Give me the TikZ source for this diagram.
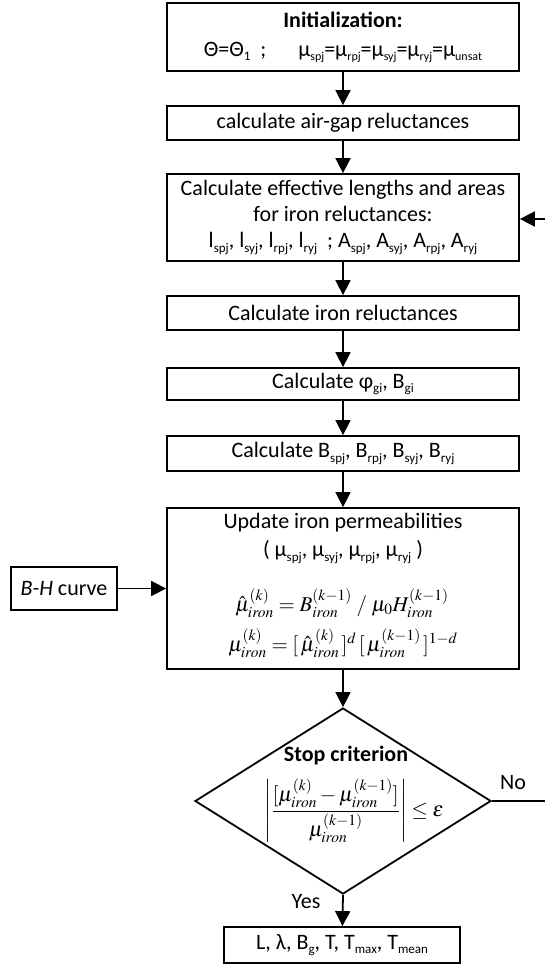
\documentclass[tikz,border=0pt]{standalone}
\usepackage{amsmath}
\usepackage{mathptmx}
\usepackage[no-math]{fontspec}
\setmainfont{Carlito}
\usetikzlibrary{arrows.meta,shapes.geometric}
\DeclareMathSizes{21}{21}{15.5}{11.5}
\newcommand{\lo}[1]{\raisebox{-0.4ex}{\fontsize{13}{13}\selectfont #1}}
\newcommand{\los}[1]{\raisebox{-0.4ex}{\fontsize{12}{12}\selectfont #1}}
\tikzset{
  box/.style={draw, line width=1.8pt, inner sep=0pt, align=center},
  conn/.style={line width=1.8pt},
  arr/.style={line width=1.8pt, -{Triangle[length=15pt,width=15pt]}},
  txt/.style={inner sep=0pt, align=center},
  eqf/.style={inner sep=0pt, font=\fontsize{21}{25}\selectfont}
}
\begin{document}
\begin{tikzpicture}[x=1pt,y=-1pt,font=\fontsize{22}{26}\selectfont]
\useasboundingbox (0,0) rectangle (544,965);
% boxes
\node[box, minimum width=352pt, minimum height=68pt] (b1) at (343,37)
  {\textbf{Initialization:}\\[3pt]
   Θ=Θ\lo{1}\ \ ;\quad\ \ μ\los{spj}=μ\los{rpj}=μ\los{syj}=μ\los{ryj}=μ\los{unsat}};
\node[box, minimum width=352pt, minimum height=34pt] (b2) at (343,123) {calculate air-gap reluctances};
\node[box, minimum width=352pt, minimum height=87pt] (b3) at (343,217.5)
  {Calculate effective lengths and areas\\for iron reluctances:\\
   l\lo{spj}, l\lo{syj}, l\lo{rpj}, l\lo{ryj}\ \ ;\ A\lo{spj}, A\lo{syj}, A\lo{rpj}, A\lo{ryj}};
\node[box, minimum width=352pt, minimum height=34pt] (b4) at (343,313) {Calculate iron reluctances};
\node[box, minimum width=352pt, minimum height=32pt] (b5) at (343,384) {Calculate φ\lo{gi}, B\lo{gi}};
\node[box, minimum width=352pt, minimum height=35pt] (b6) at (343,453.5) {Calculate B\lo{spj}, B\lo{rpj}, B\lo{syj}, B\lo{ryj}};
\node[box, minimum width=352pt, minimum height=161pt] (b7) at (343,588.5) {};
\node[txt] (t7a) at (343,523) {Update iron permeabilities};
\node[txt] (t7b) at (343,552) {( μ\lo{spj}, μ\lo{syj}, μ\lo{rpj}, μ\lo{ryj} )};
\node[eqf] (e1) at (342,603) {$\hat{\mu}^{(k)}_{iron}=B^{(k-1)}_{iron}\;/\;\mu_0H^{(k-1)}_{iron}$};
\node[eqf] (e2) at (343,643) {$\mu^{(k)}_{iron}=[\,\hat{\mu}^{(k)}_{iron}\,]^{d}\,[\,\mu^{(k-1)}_{iron}\,]^{1-d}$};
\node[box, minimum width=106pt, minimum height=43pt] (bh) at (64,588.5) {\textit{B-H} curve};
% diamond
\node[draw, diamond, line width=1.8pt, inner sep=0pt, minimum width=296pt, minimum height=186pt] (dm) at (343,801) {};
\node[txt] (dt) at (346,756) {\textbf{Stop criterion}};
\node[eqf] (df) at (354,811) {$\left|\dfrac{[\mu^{(k)}_{iron}-\mu^{(k-1)}_{iron}]}{\mu^{(k-1)}_{iron}}\right|\le\varepsilon$};
\node[box, minimum width=236pt, minimum height=36pt] (fin) at (342,945) {L, λ, B\lo{g}, T, T\lo{max}, T\lo{mean}};
% labels
\node[txt] (no) at (513,783) {No};
\node[txt] (yes) at (306,902) {Yes};
% connectors
\draw[arr] (b1) -- (b2);
\draw[arr] (b2) -- (b3);
\draw[arr] (b3) -- (b4);
\draw[arr] (b4) -- (b5);
\draw[arr] (b5) -- (b6);
\draw[arr] (b6) -- (b7);
\draw[arr] (b7) -- (dm.north);
\draw[arr] (dm.south) -- (fin);
\draw[arr] (bh) -- (b7.west);
\coordinate (fa) at (548,801);
\coordinate (fb) at (548,219);
\draw[arr] (dm.east) -- (fa) -- (fb) -- (b3.east |- fb);
\end{tikzpicture}
\end{document}
